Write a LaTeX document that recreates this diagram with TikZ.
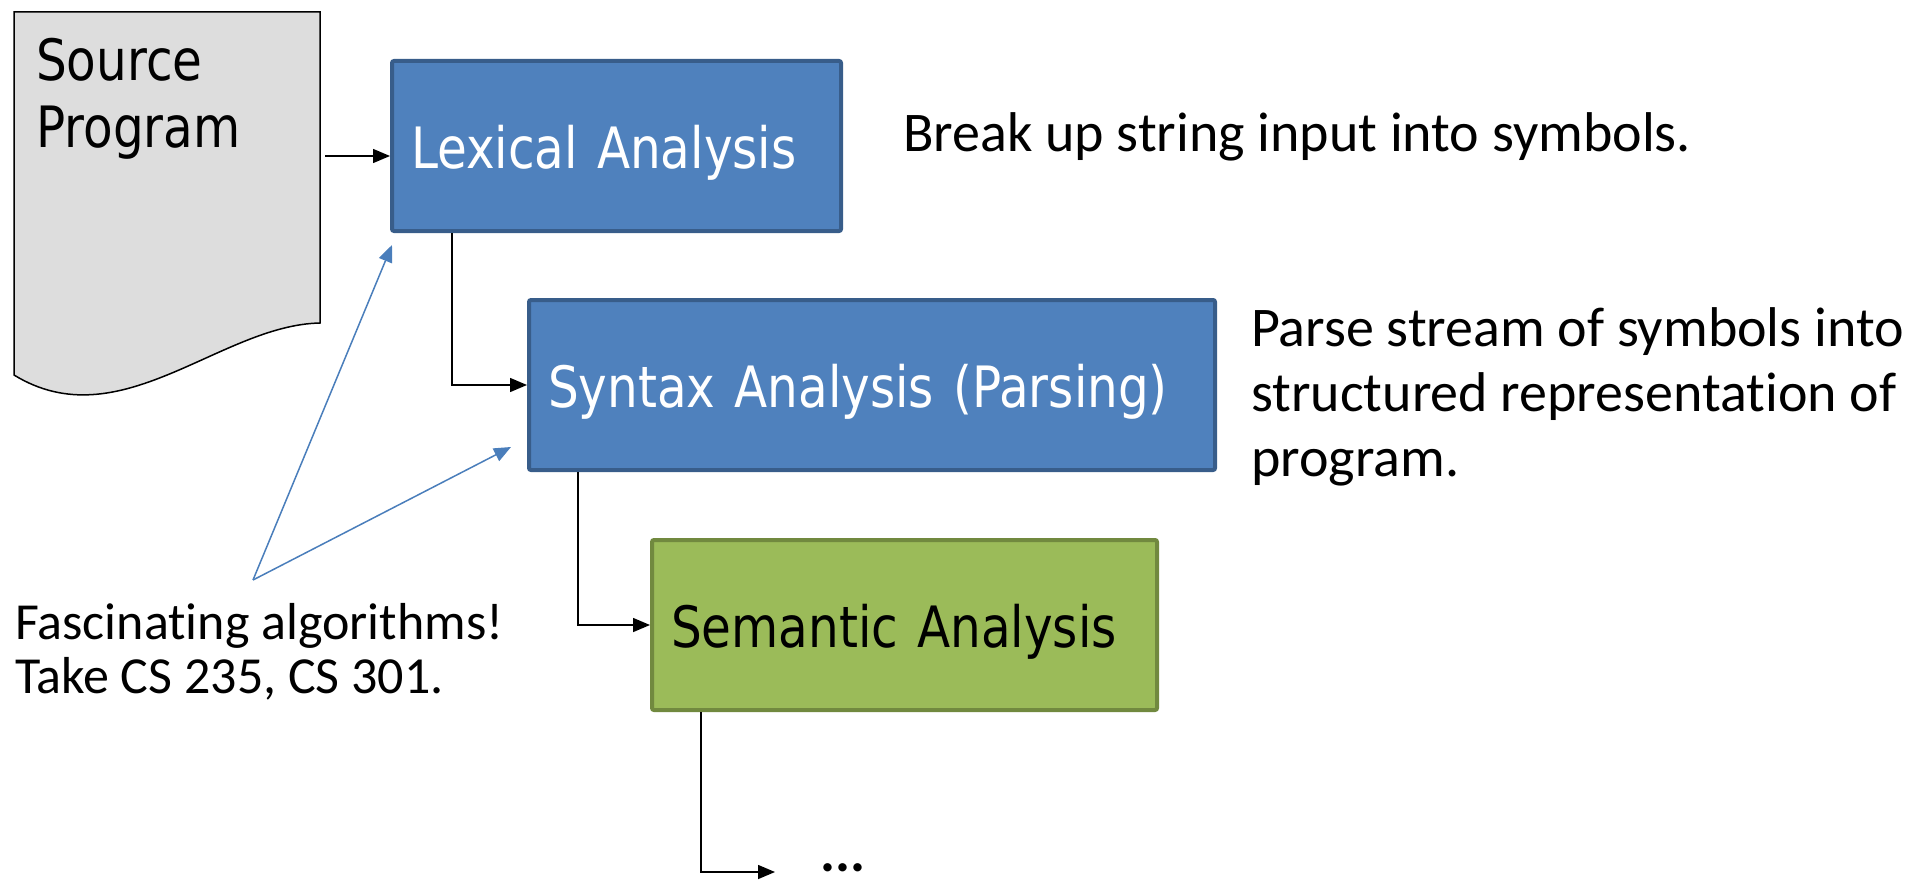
\documentclass[tikz,border=0pt]{standalone}
\usepackage{fontspec}
\usepackage{tikz}
\usetikzlibrary{positioning,arrows.meta,calc}
\newfontfamily\boxfont[FakeStretch=0.85]{DejaVu Sans}
\newfontfamily\notefont[Ligatures=NoCommon]{Carlito}
\definecolor{stageblue}{RGB}{79,129,189}
\definecolor{stageblueline}{RGB}{56,93,138}
\definecolor{stagegreen}{RGB}{155,187,89}
\definecolor{stagegreenline}{RGB}{113,137,63}
\definecolor{docgray}{RGB}{221,221,221}
\definecolor{hintblue}{RGB}{74,126,187}

\begin{document}
\begin{tikzpicture}[
    x=1pt, y=1pt,
    stage/.style={rectangle, rounded corners=2pt, line width=4pt, draw=stageblueline, fill=stageblue, text=white, font=\boxfont\fontsize{57}{67}\selectfont, inner xsep=19pt, inner ysep=0pt, minimum height=170pt, text height=44pt, text depth=0pt, align=left},
    note/.style={font=\notefont\fontsize{56}{65}\selectfont, inner sep=0pt, align=left},
    flow/.style={-{Triangle[length=17pt,width=14pt]}, line width=1.5pt, black},
    hint/.style={-{Triangle[length=17pt,width=14pt]}, line width=1.5pt, hintblue}
]
    \useasboundingbox (0,0) rectangle (1913,-880);

    % Source program page
    \draw[line width=1.5pt, fill=docgray] (14,-12) -- (320,-12) -- (320,-323)
        .. controls (220,-325) and (120,-440) .. (14,-375) -- cycle;
    \node[anchor=north west, inner sep=0pt, align=left, font=\boxfont\fontsize{57}{67}\selectfont] (src) at (36,-38) {Source\\Program};
    \coordinate (srcout) at (325,-156);

    % Phases
    \node[stage, text width=411pt, anchor=north west] (lex) at (390,-59) {Lexical Analysis};
    \node[stage, text width=648pt, anchor=north west] (syn) at (527,-298) {Syntax Analysis (Parsing)};
    \node[stage, text width=467pt, anchor=north west, fill=stagegreen, draw=stagegreenline, text=black] (sem) at (650,-538) {Semantic Analysis};
    \node[note, anchor=west] (more) at (820,-868) {\bfseries ...};

    % Descriptions
    \node[note, anchor=base west] (lexnote) at (903,-151) {Break up string input into symbols.};
    \node[note, anchor=north west] (synnote) at (1251,-307) {Parse stream of symbols into\\structured representation of\\program.};
    \node[note, anchor=north west, font=\notefont\fontsize{52}{54}\selectfont] (algo) at (15,-603) {Fascinating algorithms!\\Take CS 235, CS 301.};
    \coordinate (hintapex) at (253,-580);

    % Pipeline arrows
    \draw[flow] (srcout) -- (srcout -| lex.west);
    \draw[flow] ([xshift=62pt]lex.south west) |- (syn.west);
    \draw[flow] ([xshift=51pt]syn.south west) |- (sem.west);
    \draw[flow] ([xshift=51pt]sem.south west) |- ([xshift=-45pt,yshift=-4pt]more.west);

    % Pointers to the algorithm-heavy phases
    \draw[hint] (hintapex) -- ([xshift=2pt,yshift=-12pt]lex.south west);
    \draw[hint] (hintapex) -- ([xshift=-16pt,yshift=25pt]syn.south west);
\end{tikzpicture}
\end{document}
